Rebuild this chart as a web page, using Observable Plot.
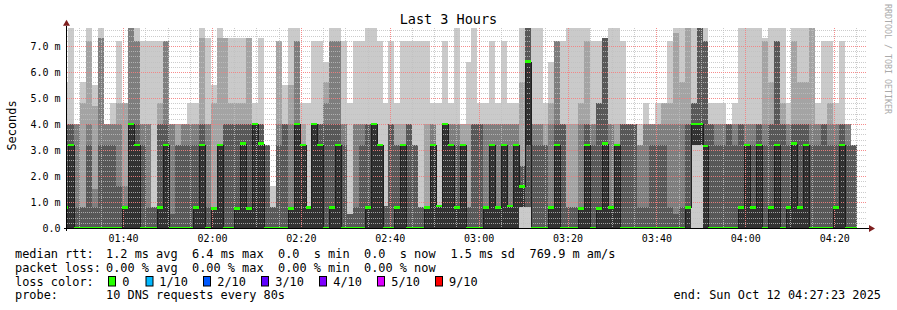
<!DOCTYPE html>
<html><head><meta charset="utf-8">
<script src="https://cdn.jsdelivr.net/npm/d3@7"></script>
<script src="https://cdn.jsdelivr.net/npm/@observablehq/plot@0.6"></script>
<style>
html,body{margin:0;padding:0;background:#fff;}
#chart{width:897px;height:310px;overflow:hidden;}
svg text{white-space:pre;}
</style></head><body><div id="chart"></div>
<script>
// ---- data (ms), one entry per 80 s step, first entry is the partial step at the left edge ----
const medianRtt = [
 0.8,3.2,0,0,0,0,0,0,0,0,
 0.8,4.0,3.2,0,0,0,0.8,3.2,0,0,
 0,0,0.8,3.2,0,0.75,3.2,0,0,0.75,
 3.25,0.75,4.0,3.25,0,0,0,0,0.75,4.0,
 3.2,0.8,4.0,3.2,0,0.8,3.2,0,0,0,
 0,0.8,4.0,3.2,0,0,0.8,3.2,0,0,
 0,0.8,3.2,0.85,4.0,3.2,0.8,3.2,0,0,
 0,0.8,3.2,0.8,3.2,0.85,3.2,1.6,6.4,0,
 0,0,0.8,3.2,0,0,0,0.75,3.2,0,
 0.75,3.25,0.8,3.2,0,0,0,0,0,0,
 0,0,0,0,0,0.8,4.0,4.0,3.15,0,
 0,0,0,0,0.8,3.2,0.8,3.2,0,0.8,
 3.2,0,0.8,3.25,0.8,3.2,0,0,0,0,
 0.8,3.2,0,0];
const ping7 = [
 4.0,4.0,0.8,0.8,3.2,0.8,3.2,3.2,3.2,1.6,
 0.8,4.0,4.0,3.2,0.8,0.8,4.0,4.0,0.55,3.2,
 3.2,3.2,3.2,4.0,0.8,0.8,3.2,4.0,4.0,4.0,
 4.0,4.0,4.0,4.0,3.2,0.8,3.2,4.0,0.8,4.0,
 3.2,0.8,4.0,4.0,4.0,4.0,4.0,3.2,0.55,0.8,
 3.2,4.0,4.0,3.2,0.85,4.0,3.2,3.2,4.0,3.2,
 0.8,0.8,3.2,0.85,4.0,3.2,3.2,3.2,0.8,4.0,
 4.0,0.8,3.2,0.8,3.2,0.85,3.2,2.4,7.7,3.2,
 3.2,3.2,0.8,4.0,4.0,0.8,0.8,0.8,4.0,3.2,
 4.8,7.3,0.8,3.2,4.0,4.0,4.0,0.8,0.8,3.2,
 3.2,3.2,0.8,0.55,0.8,4.0,4.8,7.7,7.2,4.0,
 3.2,3.2,4.0,3.2,4.0,3.2,3.2,4.0,3.2,4.0,
 7.2,4.0,3.2,4.0,4.0,4.0,3.2,3.2,4.0,3.2,
 3.2,4.0,3.2,3.2];
const ping8 = [
 4.0,4.0,4.0,0.8,4.0,1.5,7.3,4.0,4.0,4.0,
 1.6,7.7,7.2,4.0,4.0,0.8,4.0,7.2,4.0,3.2,
 4.0,4.0,4.0,4.0,4.0,0.8,3.2,4.0,4.0,4.0,
 4.0,4.0,4.0,4.0,3.2,0.8,4.0,4.0,4.0,7.2,
 3.2,0.8,4.0,4.0,4.8,7.2,7.2,4.0,0.55,4.0,
 4.0,4.0,4.0,3.2,0.85,4.0,3.2,3.2,4.0,3.2,
 0.8,0.8,4.0,0.85,4.0,4.0,4.0,3.2,0.8,4.0,
 4.0,4.0,4.0,4.0,4.0,4.0,4.0,2.4,7.7,4.0,
 4.0,3.2,4.0,7.2,4.0,0.8,0.8,4.0,4.0,4.0,
 4.8,7.3,4.0,3.2,4.0,4.0,4.0,3.2,4.0,4.0,
 4.0,4.0,4.0,4.0,4.0,4.0,4.8,7.7,7.2,4.0,
 4.0,4.0,4.0,4.0,4.0,4.0,4.0,4.0,4.0,4.0,
 7.2,4.0,4.0,4.0,4.0,4.0,4.0,4.0,4.0,4.0,
 4.0,4.0,4.0,3.2];
const ping9 = [
 4.0,4.0,4.0,4.8,7.2,4.7,7.3,4.0,4.0,4.8,
 4.8,7.7,7.2,4.0,4.0,0.8,4.8,7.2,4.0,4.0,
 4.0,4.0,4.0,7.3,4.0,4.8,7.3,7.3,4.8,4.8,
 4.8,7.3,4.0,4.0,3.2,0.8,7.2,4.0,5.5,7.2,
 4.0,0.8,4.0,4.0,5.6,7.2,7.2,4.0,0.55,4.0,
 4.0,4.0,4.0,3.2,0.85,4.0,4.0,4.0,4.0,3.2,
 0.8,4.0,4.0,0.85,4.0,4.0,4.0,4.0,4.0,4.0,
 4.0,4.0,4.0,4.0,4.0,4.0,4.0,5.6,7.7,4.0,
 4.0,4.0,4.8,7.2,4.0,4.0,4.0,4.8,7.2,4.0,
 4.8,7.3,4.0,4.0,4.0,4.0,4.0,3.2,4.0,4.0,
 4.0,4.8,4.8,7.5,5.6,7.7,4.8,7.7,7.2,4.0,
 4.0,4.0,4.0,4.0,4.0,4.0,4.0,4.0,7.2,5.6,
 7.2,4.8,4.0,7.2,5.6,5.6,7.7,4.0,4.0,4.8,
 4.0,4.0,4.0,3.2];
const ping10 = [
 5.6,7.7,4.0,5.6,7.7,5.5,7.7,4.0,4.8,7.2,
 4.8,7.7,7.7,7.2,7.2,7.2,7.2,7.2,4.0,4.0,
 4.0,4.8,4.8,7.7,7.3,5.5,7.7,7.3,7.3,7.3,
 7.3,7.3,4.8,7.3,3.2,1.6,7.2,5.5,7.7,7.7,
 4.8,4.8,7.2,7.2,6.4,7.7,7.7,7.2,4.8,7.2,
 7.2,7.7,7.7,7.2,4.8,7.2,4.8,7.2,7.2,7.2,
 7.2,7.2,4.8,4.8,7.2,4.8,7.7,4.0,6.4,7.7,
 4.8,4.8,7.2,4.8,7.2,4.8,4.8,7.7,7.7,7.7,
 7.7,4.8,6.4,7.2,7.2,7.7,7.7,7.7,7.7,7.2,
 7.2,7.3,7.7,7.7,7.2,4.0,4.0,4.0,4.8,4.0,
 4.8,4.8,7.2,7.7,7.7,7.7,7.7,7.7,7.7,4.8,
 4.8,4.8,4.0,4.8,7.7,7.7,7.7,7.7,7.3,7.7,
 7.7,7.7,4.8,7.7,7.7,7.7,7.7,4.8,7.2,7.2,
 4.8,7.2,4.0,3.2];
// steps whose lower pings are not 0: [step index, ping2, ping3, ping4, ping5]
const raisedLows = [[77,0.8,0.8,0.8,0.8],[78,0.8,0.8,0.8,3.2],[106,3.2,3.2,3.2,3.2],[107,3.2,3.2,3.2,3.2]];
const yTicks = [0,1,2,3,4,5,6,7];
const lossColors = [["0","#26ff00"],["1/10","#00b8ff"],["2/10","#0059ff"],["3/10","#5e00ff"],["4/10","#7e00ff"],["5/10","#dd00ff"],["9/10","#ff0000"]];
const statsLine1 = ["median rtt:","1.2 ms avg","6.4 ms max","0.0  s min","0.0  s now","1.5 ms sd","769.9 m am/s"];
const statsLine2 = ["packet loss:","0.00 % avg","0.00 % max","0.00 % min","0.00 % now"];
const probeText = ["probe:","10 DNS requests every 80s"];
const endText = "end: Sun Oct 12 04:27:23 2025";
const titleText = "Last 3 Hours";

// ---- build tables ----
const t0 = Date.UTC(2025,9,12,1,27,23);
const tEnd = Date.UTC(2025,9,12,4,27,23);
const firstBoundary = Date.UTC(2025,9,12,1,27,43);
const stepMs = 80000;
const lowMap = new Map(raisedLows.map(r => [r[0], r.slice(1)]));
const smokeCols = ["#cacaca","#a4a4a4","#7e7e7e","#585858","#323232"];
const bands = [[],[],[],[],[]];
const medRows = [], medLine = [];
medianRtt.forEach((m, k) => {
  const x1 = new Date(firstBoundary + (k-1)*stepMs), x2 = new Date(firstBoundary + k*stepMs);
  const lows = lowMap.get(k) || [0,0,0,0];
  const p = [0, ...lows, m, ping7[k], ping8[k], ping9[k], ping10[k]];
  for (let i = 6; i < 10; i++) p[i] = Math.max(p[i], p[i-1]);
  for (let b = 0; b < 5; b++) bands[b].push({x1, x2, y1: p[b], y2: p[9-b]});
  medRows.push({x1, x2, m});
  medLine.push({x: x1, y: m}, {x: x2, y: m});
});

const mono = "DejaVu Sans Mono";
const plot = Plot.plot({
  width: 897, height: 310,
  marginLeft: 67, marginRight: 30, marginTop: 27.8, marginBottom: 82,
  style: {fontFamily: mono, fontSize: "10px", background: "#fff", color: "#000"},
  x: {type: "utc", domain: [new Date(t0), new Date(tEnd)]},
  y: {domain: [0, 7.7]},
  marks: [
    ...bands.map((rows, b) => Plot.rect(rows, {x1: "x1", x2: "x2", y1: "y1", y2: "y2", fill: smokeCols[b], clip: true, shapeRendering: "crispEdges"})),
    Plot.ruleY(d3.range(0, 7.71, 0.2).filter(v => Math.abs(v - Math.round(v)) > 0.01), {stroke: "rgb(191,191,191)", strokeOpacity: 0.8, strokeDasharray: "1,1", shapeRendering: "crispEdges"}),
    Plot.ruleX(d3.utcMinute.every(5).range(new Date(t0), new Date(tEnd)).filter(d => d.getUTCMinutes() % 20 !== 0), {stroke: "rgb(191,191,191)", strokeOpacity: 0.8, strokeDasharray: "1,1", shapeRendering: "crispEdges"}),
    Plot.ruleY(yTicks.slice(1), {stroke: "rgb(245,128,128)", strokeOpacity: 0.9, strokeDasharray: "1,1", shapeRendering: "crispEdges"}),
    Plot.ruleX(d3.utcMinute.every(20).range(new Date(t0), new Date(tEnd)), {stroke: "rgb(245,128,128)", strokeOpacity: 0.9, strokeDasharray: "1,1", shapeRendering: "crispEdges"}),
    Plot.line(medLine, {x: "x", y: "y", stroke: "#202020", strokeWidth: 1, clip: true, shapeRendering: "crispEdges"}),
    Plot.rect(medRows, {x1: "x1", x2: "x2", y1: d => d.m - 0.05, y2: d => d.m + 0.05, fill: "#26ff00", clip: true, shapeRendering: "crispEdges"}),
    Plot.axisY({ticks: yTicks, tickFormat: d => d === 0 ? "0.0" : d.toFixed(1) + " m", tickSize: 0, tickPadding: 7, fontSize: 10, label: null}),
    Plot.axisX({ticks: d3.utcMinute.every(20).range(new Date(t0), new Date(tEnd)), tickFormat: d3.utcFormat("%H:%M"), tickSize: 0, tickPadding: 6, fontSize: 10, label: null})
  ]
});
document.getElementById("chart").appendChild(plot);

// ---- rrdtool-style decorations ----
const svg = d3.select(plot);
const xs = plot.scale("x"), ys = plot.scale("y");
const L = xs.range[0], R = xs.range[1], B = ys.range[0], T = ys.range[1];
svg.append("line").attr("x1", L - 3).attr("x2", R + 2).attr("y1", B + 0.5).attr("y2", B + 0.5).attr("stroke", "#000");
svg.append("line").attr("x1", L - 0.5).attr("x2", L - 0.5).attr("y1", B + 3).attr("y2", T - 2).attr("stroke", "#000");
svg.append("path").attr("d", `M${R+2},${B-3}L${R+8},${B+0.5}L${R+2},${B+4}Z`).attr("fill", "#7f1f1f");
svg.append("path").attr("d", `M${L-4},${T-2}L${L-0.5},${T-8}L${L+3},${T-2}Z`).attr("fill", "#7f1f1f");

function txt(x, y, s, size, opts = {}) {
  const t = svg.append("text").attr("x", x).attr("y", y).text(s)
    .attr("font-family", mono).attr("font-size", size).attr("fill", opts.fill || "#000")
    .attr("text-anchor", opts.anchor || "start");
  if (opts.rotate != null) t.attr("transform", `rotate(${opts.rotate},${x},${y})`);
  return t;
}
txt(448.5, 24, titleText, 13.5, {anchor: "middle"});
txt(16, 125.5, "Seconds", 11.9, {anchor: "middle", rotate: -90});
txt(885, 4, "RRDTOOL / TOBI OETIKER", 8.3, {fill: "#aaaaaa", rotate: 90});

const colX = [15, 106, 192, 278, 364, 450.5, 529.5];
const LS = 11.9;
statsLine1.forEach((s, i) => txt(colX[i], 258, s, LS));
statsLine2.forEach((s, i) => txt(colX[i], 272, s, LS));
txt(colX[0], 285.5, "loss color:", LS);
const boxX = [108.5, 146, 203.5, 261.5, 319.5, 377.5, 435.5];
const labX = [122.3, 159.3, 217.3, 275.3, 333.3, 391.3, 449];
lossColors.forEach(([lab, c], i) => {
  svg.append("rect").attr("x", boxX[i]).attr("y", 276.5).attr("width", 7).attr("height", 9.5)
    .attr("fill", c).attr("stroke", "#000").attr("stroke-width", 1);
  txt(labX[i], 285.5, lab, LS);
});
txt(colX[0], 299, probeText[0], LS);
txt(colX[1], 299, probeText[1], LS);
txt(881, 299, endText, LS, {anchor: "end"});
</script></body></html>
